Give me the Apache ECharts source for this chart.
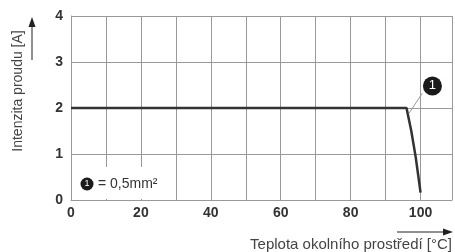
<!DOCTYPE html>
<html lang="cs">
<head>
    <meta charset="UTF-8">
    <title>Intenzita proudu</title>
    <script src="https://cdn.jsdelivr.net/npm/echarts@6/dist/echarts.min.js"></script>
    <style>
        html, body { margin: 0; padding: 0; background: #fff; }
        #chart { width: 455px; height: 252px; }
    </style>
</head>
<body>
    <div id="chart"></div>
    <script>
        // derating curve
        var temps = [0, 96, 96.4, 97.3, 98.6, 99.4, 100];
        var amps = [2, 2, 1.85, 1.52, 0.94, 0.5, 0.16];
        var calloutPos = [103.4, 2.48];
        var leader = [[100.5, 2.32], [96.7, 1.885]];
        var xTitle = 'Teplota okolního prostředí [°C]';
        var yTitle = 'Intenzita proudu [A]';
        var legendText = '= 0,5mm²';

        var font = "'Liberation Sans', Arial, sans-serif";
        var gridColor = '#999';

        var chart = echarts.init(document.getElementById('chart'));
        chart.setOption({
            animation: false,
            grid: { left: 71, right: 3, top: 16, bottom: 52 },
            xAxis: {
                type: 'value',
                min: 0,
                max: 109,
                interval: 10,
                axisLine: { show: true, lineStyle: { color: gridColor, width: 1 } },
                axisTick: { show: false },
                splitLine: { show: true, lineStyle: { color: gridColor, width: 1 } },
                axisLabel: {
                    margin: 6,
                    fontFamily: font,
                    fontSize: 14,
                    fontWeight: 'bold',
                    color: '#333',
                    formatter: function (v) { return v % 20 === 0 && v <= 100 ? String(v) : ''; }
                }
            },
            yAxis: {
                type: 'value',
                min: 0,
                max: 4,
                interval: 1,
                axisLine: { show: true, lineStyle: { color: gridColor, width: 1 } },
                axisTick: { show: false },
                splitLine: { show: true, lineStyle: { color: gridColor, width: 1 } },
                axisLabel: {
                    margin: 8,
                    fontFamily: font,
                    fontSize: 14,
                    fontWeight: 'bold',
                    color: '#333'
                }
            },
            series: [{
                type: 'line',
                data: temps.map(function (t, i) { return [t, amps[i]]; }),
                showSymbol: false,
                lineStyle: { color: '#333', width: 2.5 },
                markLine: {
                    silent: true,
                    symbol: ['none', 'none'],
                    label: { show: false },
                    lineStyle: { color: '#999', width: 1, type: 'solid' },
                    data: [[{ coord: leader[0] }, { coord: leader[1] }]]
                },
                markPoint: {
                    silent: true,
                    symbol: 'circle',
                    symbolSize: 19,
                    itemStyle: { color: '#1a1a1a' },
                    label: { show: true, formatter: '1', color: '#fff', fontFamily: font, fontSize: 13 },
                    data: [{ coord: calloutPos }]
                }
            }],
            graphic: [
                // legend box covers the grid lines
                { type: 'rect', z: 10, shape: { x: 72, y: 167, width: 98, height: 32 }, style: { fill: '#fff' } },
                { type: 'circle', z: 11, shape: { cx: 87, cy: 184, r: 6.5 }, style: { fill: '#1a1a1a' } },
                { type: 'text', z: 12, x: 87, y: 184, style: { text: '1', fill: '#fff', font: '9px ' + font, align: 'center', verticalAlign: 'middle' } },
                { type: 'text', z: 12, x: 98, y: 184, style: { text: legendText, fill: '#333', font: '14px ' + font, verticalAlign: 'middle' } },
                // axis titles with arrows
                { type: 'text', x: 18, y: 91, rotation: Math.PI / 2, style: { text: yTitle, fill: '#444', font: '14px ' + font, align: 'center', verticalAlign: 'middle' } },
                { type: 'line', shape: { x1: 32, y1: 60, x2: 32, y2: 25 }, style: { stroke: '#222', lineWidth: 1 } },
                { type: 'polygon', shape: { points: [[32, 17], [28.5, 27], [35.5, 27]] }, style: { fill: '#222' } },
                { type: 'text', x: 452, y: 245, style: { text: xTitle, fill: '#444', font: '15px ' + font, align: 'right', verticalAlign: 'middle' } },
                { type: 'line', shape: { x1: 397, y1: 232, x2: 444, y2: 232 }, style: { stroke: '#222', lineWidth: 1 } },
                { type: 'polygon', shape: { points: [[453, 232], [443, 228.5], [443, 235.5]] }, style: { fill: '#222' } }
            ]
        });
    </script>
</body>
</html>
